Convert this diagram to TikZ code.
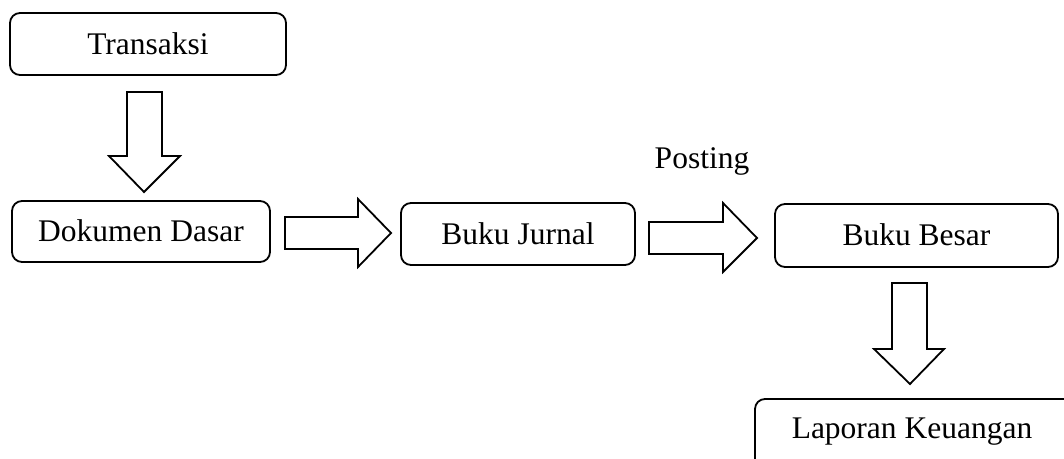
\documentclass[tikz,border=0pt]{standalone}
\usepackage{fontspec}
\setmainfont{Liberation Serif}
\begin{document}
\begin{tikzpicture}[x=1pt,y=-1pt,
  box/.style={draw=black,line width=1.8pt,rounded corners=10pt,fill=white},
  lbl/.style={font=\fontsize{31.5}{36}\selectfont,text height=20.8pt,text depth=0pt,inner sep=0pt},
  blockarrow/.style={draw=black,line width=1.8pt,fill=white,line join=miter}]
\clip (0,0) rectangle (1064,458);
\fill[white] (0,0) rectangle (1064,458);
% boxes
\draw[box] (10,13) rectangle (286,75);
\node[lbl] (transaksi) at (148,44) {Transaksi};
\draw[box] (12,201) rectangle (270,262);
\node[lbl] (dokumen) at (141,231.5) {Dokumen Dasar};
\draw[box] (401,203) rectangle (635,265);
\node[lbl] (jurnal) at (518,234) {Buku Jurnal};
\draw[box] (775,204) rectangle (1058,267);
\node[lbl] (besar) at (916.5,235.5) {Buku Besar};
\draw[box] (755,399) rectangle (1085,480);
\node[lbl] (laporan) at (912,428) {Laporan Keuangan};
\node[lbl] (posting) at (702,158) {Posting};
% block arrows
\draw[blockarrow] (127,92) -- (162,92) -- (162,156) -- (180,156) -- (144,192) -- (109,156) -- (127,156) -- cycle;
\draw[blockarrow] (285,217) -- (358,217) -- (358,199) -- (391,233) -- (358,267) -- (358,249) -- (285,249) -- cycle;
\draw[blockarrow] (649,222) -- (723,222) -- (723,203) -- (757,238) -- (723,272) -- (723,254) -- (649,254) -- cycle;
\draw[blockarrow] (892,283) -- (927,283) -- (927,349) -- (944,349) -- (910,384) -- (874,349) -- (892,349) -- cycle;
\end{tikzpicture}
\end{document}
